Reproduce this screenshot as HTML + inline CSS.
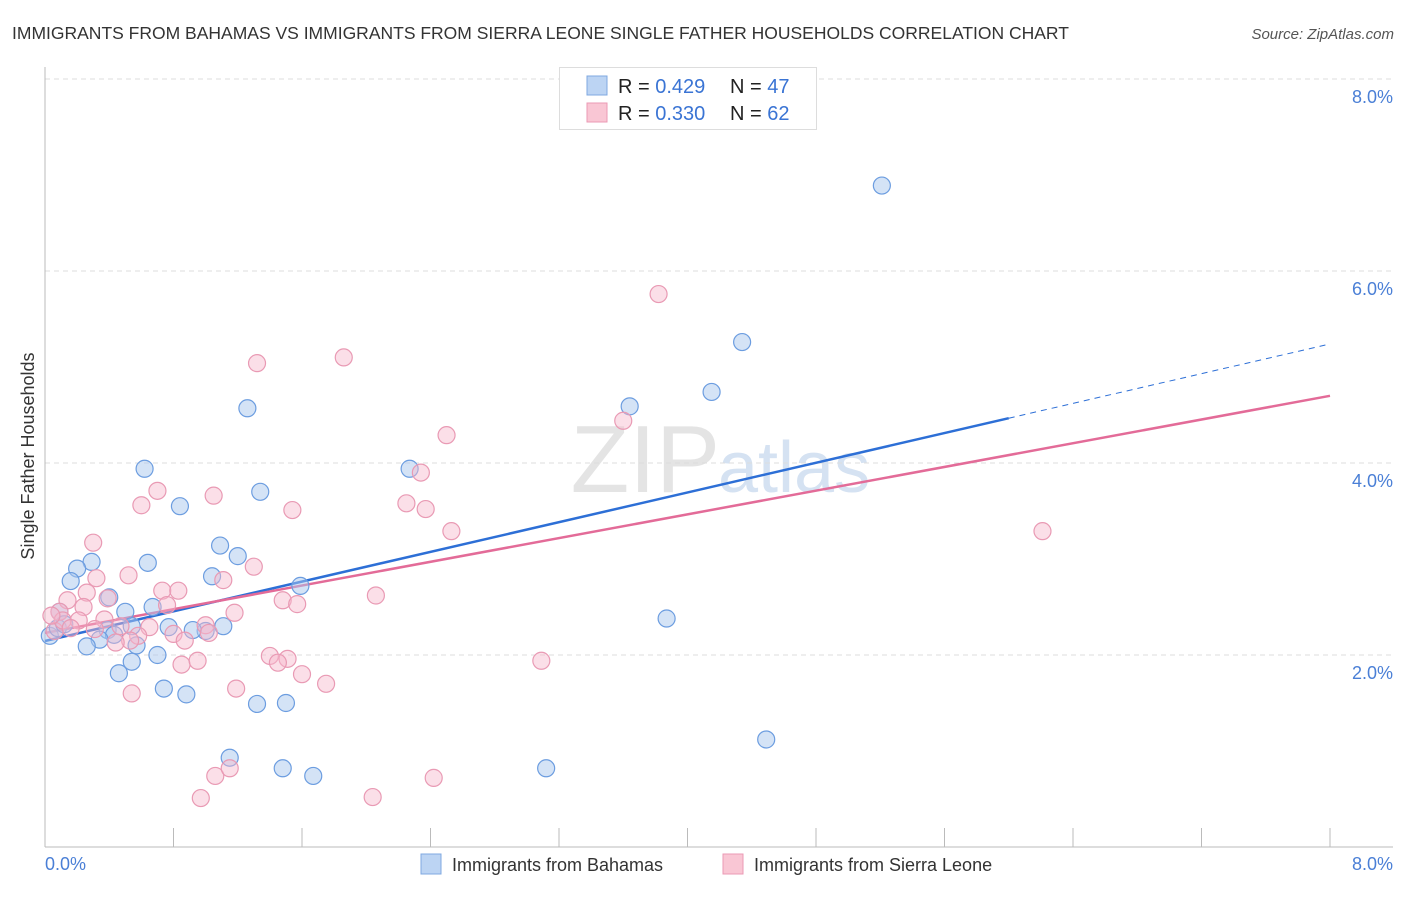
<!DOCTYPE html>
<html><head><meta charset="utf-8"><style>
body{margin:0;background:#fff;font-family:"Liberation Sans",sans-serif;}
svg text{font-family:"Liberation Sans",sans-serif;}
</style></head><body>
<svg id="chart" width="1406" height="892">
<text x="12" y="39" font-size="17.5" fill="#333">IMMIGRANTS FROM BAHAMAS VS IMMIGRANTS FROM SIERRA LEONE SINGLE FATHER HOUSEHOLDS CORRELATION CHART</text>
<text x="1394" y="39" font-size="15" fill="#555" font-style="italic" text-anchor="end">Source: ZipAtlas.com</text>
<text x="720" y="492" font-size="96" fill="#e4e4e4" text-anchor="end" font-family="Liberation Serif">ZIP</text>
<text x="718" y="492" font-size="72" fill="#d5e2f2">atlas</text>
<text transform="translate(34,456) rotate(-90)" font-size="18" fill="#333" text-anchor="middle">Single Father Households</text>
<g id="grid"></g><g id="axes"></g><g id="trends"></g><g id="pts"></g>
<g>
<rect x="559.5" y="67.5" width="257" height="62" fill="#fff" stroke="#ddd"/>
<rect x="587" y="76" width="20" height="19" fill="#bcd4f3" stroke="#7fa8e0"/>
<rect x="587" y="103" width="20" height="19" fill="#f9c6d4" stroke="#eb9ab4"/>
<text x="618" y="93" font-size="20" fill="#222">R = <tspan fill="#3a74d4">0.429</tspan></text>
<text x="730" y="93" font-size="20" fill="#222">N = <tspan fill="#3a74d4">47</tspan></text>
<text x="618" y="120" font-size="20" fill="#222">R = <tspan fill="#3a74d4">0.330</tspan></text>
<text x="730" y="120" font-size="20" fill="#222">N = <tspan fill="#3a74d4">62</tspan></text>
</g>
<g>
<rect x="421" y="854" width="20" height="20" fill="#bcd4f3" stroke="#7fa8e0"/>
<text x="452" y="871" font-size="18" fill="#333">Immigrants from Bahamas</text>
<rect x="723" y="854" width="20" height="20" fill="#f9c6d4" stroke="#eb9ab4"/>
<text x="754" y="871" font-size="18" fill="#333">Immigrants from Sierra Leone</text>
</g>
</svg>
<script>
const blueX=[5.21,4.34,4.15,3.64,1.26,2.27,0.62,1.34,0.84,1.09,1.20,0.64,0.29,0.20,0.16,1.04,1.59,0.40,0.67,0.50,1.11,1.00,0.92,0.77,0.54,0.39,0.43,0.34,0.26,0.57,0.70,0.54,0.46,0.74,0.88,1.32,1.50,3.87,4.49,1.15,1.48,1.67,3.12,0.09,0.03,0.08,0.12];
const blueY=[6.89,5.26,4.74,4.59,4.57,3.94,3.94,3.70,3.55,3.14,3.03,2.96,2.97,2.90,2.77,2.82,2.72,2.60,2.50,2.45,2.30,2.25,2.26,2.29,2.30,2.26,2.21,2.16,2.09,2.10,2.00,1.93,1.81,1.65,1.59,1.49,1.50,2.38,1.12,0.93,0.82,0.74,0.82,2.45,2.20,2.28,2.32];
const pinkX=[3.82,1.32,1.86,2.50,3.60,2.34,2.25,2.37,0.70,0.60,1.05,1.54,2.53,6.21,0.30,0.52,0.32,1.30,1.11,0.26,0.73,0.83,2.06,0.39,0.76,0.14,0.24,1.48,1.57,1.18,0.21,0.37,0.09,0.47,0.65,1.00,0.80,0.58,0.87,1.02,0.53,0.06,1.40,1.51,1.45,0.85,0.95,1.60,1.75,3.09,1.19,0.54,1.06,1.15,0.97,2.04,2.42,0.44,0.11,0.04,0.16,0.31];
const pinkY=[5.76,5.04,5.10,4.29,4.44,3.90,3.58,3.52,3.71,3.56,3.66,3.51,3.29,3.29,3.17,2.83,2.80,2.92,2.78,2.65,2.67,2.67,2.62,2.59,2.52,2.57,2.50,2.57,2.53,2.44,2.36,2.37,2.45,2.30,2.29,2.31,2.22,2.20,2.15,2.23,2.15,2.25,1.99,1.96,1.92,1.90,1.94,1.80,1.70,1.94,1.65,1.60,0.74,0.82,0.51,0.52,0.72,2.13,2.36,2.41,2.28,2.27];
const yTicks=[2,4,6,8];
const yTickLabels=["2.0%","4.0%","6.0%","8.0%"];
const xTickLabels=["0.0%","8.0%"];
const blueTrend=[2.146,5.24]; // y at x=0 and x=8
const pinkTrend=[2.23,4.70];
const sx=v=>45+v*160.625, sy=v=>847-v*96;
const NS="http://www.w3.org/2000/svg";
function mk(tag,attrs,parent){const e=document.createElementNS(NS,tag);for(const k in attrs)e.setAttribute(k,attrs[k]);document.getElementById(parent).appendChild(e);return e;}
yTicks.forEach((t,i)=>{
 const l=mk('line',{x1:45,x2:1393,y1:sy(t),y2:sy(t),stroke:'#ddd','stroke-dasharray':'5,4'},'grid');
 
 
 const tx=mk('text',{x:1393,y:sy(t)+24,'font-size':18,fill:'#4a7fd6','text-anchor':'end'},'grid');
 tx.textContent=yTickLabels[i];
 
 
});
const ax=mk('line',{x1:45,x2:1393,y1:847,y2:847,stroke:'#bbb'},'axes');


const ay=mk('line',{x1:45,x2:45,y1:67,y2:847,stroke:'#bbb'},'axes');


for(let i=0;i<=10;i++){const t=mk('line',{x1:sx(i*0.8),x2:sx(i*0.8),y1:828,y2:847,stroke:'#bbb'},'axes');
 
 }
[[0,'start',45],[8,'end',1393]].forEach((a,i)=>{const t=mk('text',{x:a[2],y:870,'font-size':18,fill:'#4a7fd6','text-anchor':a[1]},'axes');t.textContent=xTickLabels[i];
 
 });
function ty(tr,x){return tr[0]+(tr[1]-tr[0])*x/8;}
const b1=mk('line',{x1:sx(0),y1:sy(ty(blueTrend,0)),x2:sx(6),y2:sy(ty(blueTrend,6)),stroke:'#2d6fd6','stroke-width':2.5},'trends');


const b2=mk('line',{x1:sx(6),y1:sy(ty(blueTrend,6)),x2:sx(8),y2:sy(ty(blueTrend,8)),stroke:'#2d6fd6','stroke-width':1,'stroke-dasharray':'6,5'},'trends');


const p1=mk('line',{x1:sx(0),y1:sy(ty(pinkTrend,0)),x2:sx(8),y2:sy(ty(pinkTrend,8)),stroke:'#e36b98','stroke-width':2.5},'trends');


blueX.forEach((x,i)=>{const c=mk('circle',{cx:sx(x),cy:sy(blueY[i]),r:8.5,fill:'rgba(169,200,238,0.5)',stroke:'#6c9de0','stroke-width':1.2},'pts');
 
 });
pinkX.forEach((x,i)=>{const c=mk('circle',{cx:sx(x),cy:sy(pinkY[i]),r:8.5,fill:'rgba(246,185,203,0.45)',stroke:'#e99ab4','stroke-width':1.2},'pts');
 
 });
</script>
</body></html>
